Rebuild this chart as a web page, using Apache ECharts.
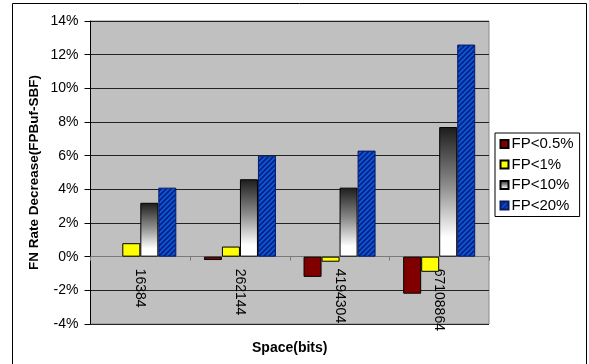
<!DOCTYPE html>
<html>
<head>
<meta charset="utf-8">
<script src="https://cdn.jsdelivr.net/npm/echarts@6/dist/echarts.min.js"></script>
<style>
  html, body { margin: 0; padding: 0; background: #ffffff; }
  #chart { width: 589px; height: 364px; }
</style>
</head>
<body>
<div id="chart"></div>
<script>
// Space sizes (bits) on the x axis
const categories = ['16384', '262144', '4194304', '67108864'];
// FN rate decrease, in percent, per false-positive bound
const fpHalf = [0, -0.2, -1.2, -2.2];
const fpOne = [0.8, 0.6, -0.3, -0.9];
const fpTen = [3.2, 4.6, 4.1, 7.7];
const fpTwenty = [4.1, 6.0, 6.3, 12.6];
const seriesNames = ['FP<0.5%', 'FP<1%', 'FP<10%', 'FP<20%'];
const yMin = -4, yMax = 14, yStep = 2;

const FONT = '"Liberation Sans", Arial, Helvetica, sans-serif';

// plot box
const GRID = { left: 90.5, top: 21, right: 100, bottom: 40 };
const CHART_H = 364;
const plotH = CHART_H - GRID.top - GRID.bottom;
// lift the category axis from the bottom edge up to the 0% line
const zeroLift = -plotH * (0 - yMin) / (yMax - yMin);

// Diagonal hatch tile for the FP<20% bars
function hatchTile() {
  const s = 5;
  const c = document.createElement('canvas');
  c.width = s; c.height = s;
  const g = c.getContext('2d');
  g.fillStyle = '#0a5ad6';
  g.fillRect(0, 0, s, s);
  g.strokeStyle = '#0a1f86';
  g.lineWidth = 1.7;
  g.beginPath();
  g.moveTo(-1, s + 1); g.lineTo(s + 1, -1);
  g.moveTo(-1, 1); g.lineTo(1, -1);
  g.moveTo(s - 1, s + 1); g.lineTo(s + 1, s - 1);
  g.stroke();
  return c;
}

const greyFade = {
  type: 'linear', x: 0, y: 0, x2: 0, y2: 1,
  colorStops: [
    { offset: 0, color: '#1c1c1c' },
    { offset: 0.45, color: '#8c8c8c' },
    { offset: 0.85, color: '#ffffff' },
    { offset: 1, color: '#ffffff' }
  ]
};

const fills = [
  '#800000',
  '#ffff00',
  greyFade,
  { image: hatchTile(), repeat: 'repeat' }
];
const values = [fpHalf, fpOne, fpTen, fpTwenty];

// a zero value gets no outline, so it leaves no mark on the axis
function barData(list) {
  return list.map(v => (v === 0 ? { value: v, itemStyle: { borderWidth: 0 } } : v));
}

const chart = echarts.init(document.getElementById('chart'), null, { renderer: 'canvas' });

chart.setOption({
  animation: false,
  backgroundColor: '#ffffff',
  textStyle: { fontFamily: FONT },
  grid: {
    left: GRID.left, top: GRID.top, right: GRID.right, bottom: GRID.bottom,
    containLabel: false,
    outerBoundsMode: 'none',
    show: true,
    backgroundColor: '#c0c0c0',
    borderColor: '#8a8a8a',
    borderWidth: 1
  },
  legend: {
    orient: 'vertical',
    left: 495, top: 133,
    backgroundColor: '#ffffff',
    borderColor: '#000000',
    borderWidth: 1,
    borderRadius: 0,
    padding: [2, 6, 2, 4.5],
    itemWidth: 8, itemHeight: 8, itemGap: 2.5,
    icon: 'rect',
    textStyle: { fontSize: 15, lineHeight: 18, color: '#000000', fontFamily: FONT, padding: [0, 0, 0, -2] },
    data: seriesNames
  },
  xAxis: {
    type: 'category',
    data: categories,
    position: 'bottom',
    offset: zeroLift,
    name: 'Space(bits)',
    nameLocation: 'middle',
    nameGap: 84,
    nameMoveOverlap: false,
    nameTextStyle: { fontSize: 14, fontWeight: 'bold', color: '#000000', fontFamily: FONT },
    axisLine: { onZero: false, lineStyle: { color: '#7a7a7a', width: 1 } },
    axisTick: { show: true, length: 4, lineStyle: { color: '#7a7a7a' } },
    axisLabel: { rotate: -90, fontSize: 14, color: '#000000', margin: 12, fontFamily: FONT },
    splitLine: { show: false }
  },
  yAxis: {
    type: 'value',
    min: yMin, max: yMax, interval: yStep,
    name: 'FN Rate Decrease(FPBuf-SBF)',
    nameLocation: 'middle',
    nameGap: 49,
    nameMoveOverlap: false,
    nameTextStyle: { fontSize: 13.5, fontWeight: 'bold', color: '#000000', fontFamily: FONT },
    axisLine: { show: true, lineStyle: { color: '#000000', width: 1 } },
    axisTick: { show: true, length: 6, lineStyle: { color: '#000000' } },
    axisLabel: { formatter: '{value}%', fontSize: 14, color: '#000000', margin: 12, fontFamily: FONT },
    splitLine: { show: true, lineStyle: { color: '#222222', width: 1 } }
  },
  series: seriesNames.map((name, i) => ({
    name: name,
    type: 'bar',
    data: barData(values[i]),
    barGap: '0%',
    barCategoryGap: '27.7%',
    itemStyle: {
      color: fills[i],
      borderColor: i === 3 ? '#0a1a60' : '#000000',
      borderWidth: 1
    }
  })),
  graphic: [{
    type: 'rect',
    shape: { x: 12.5, y: 3.5, width: 574, height: 380 },
    style: { fill: null, stroke: '#000000', lineWidth: 1 },
    silent: true,
    z: 100
  }]
});
</script>
</body>
</html>
